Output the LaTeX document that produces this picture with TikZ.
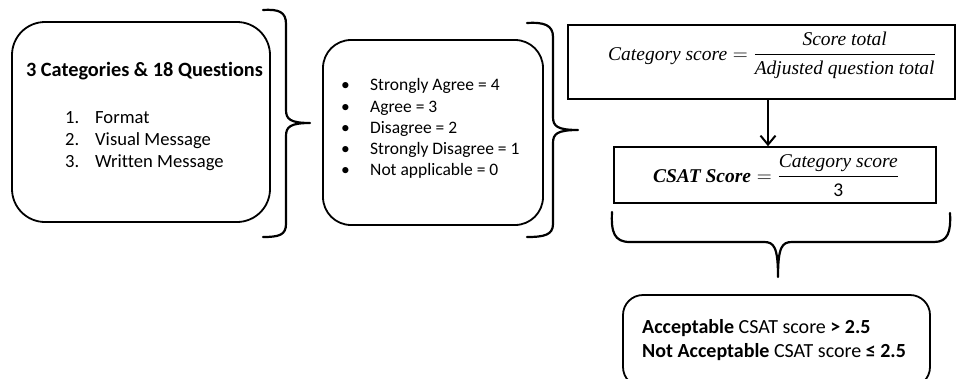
\documentclass[tikz,border=0pt]{standalone}
\usepackage{amsmath}
\usepackage{fontspec}
\setmainfont{Carlito}[Ligatures=NoCommon]
\newfontfamily\serifit{Liberation Serif}[ItalicFont=* Italic,BoldItalicFont=* Bold Italic]
\usetikzlibrary{arrows.meta}
\newcommand{\mi}[1]{\text{\serifit\itshape #1}}
\newcommand{\mbi}[1]{\text{\serifit\bfseries\itshape #1}}
\begin{document}
\begin{tikzpicture}[x=1pt,y=-1pt,
  rbox/.style={draw, line width=1.8pt, rounded corners=#1, inner sep=0pt},
  sbox/.style={draw, line width=1.6pt, inner sep=0pt},
  brace/.style={draw, line width=2.2pt, line cap=round, line join=round},
  txt/.style={anchor=base west, inner sep=0pt, font=\fontsize{17.5}{21}\selectfont},
  txtb/.style={anchor=base west, inner sep=0pt, font=\fontsize{18.6}{22}\selectfont},
  txtc/.style={anchor=base west, inner sep=0pt, font=\fontsize{20}{24}\selectfont},
  mth/.style={anchor=base, inner sep=0pt, font=\fontsize{19.5}{23}\selectfont}]
\useasboundingbox (0,0) rectangle (961,378);
\clip (0,0) rectangle (961,378);

% Box 1
\node[rbox=33pt, minimum width=258pt, minimum height=200pt] (b1) at (141,122) {};
\node[anchor=base, inner sep=0pt, font=\fontsize{20.3}{24}\selectfont\bfseries] (t1) at (144.5,76) {3 Categories \& 18 Questions};
\node[txtb] (n1) at (65,123) {1.};
\node[txtb] (l1) at (95,123) {Format};
\node[txtb] (n2) at (65,145) {2.};
\node[txtb] (l2) at (95,145) {Visual Message};
\node[txtb] (n3) at (65,167.5) {3.};
\node[txtb] (l3) at (95,167.5) {Written Message};

% Brace 1
\draw[brace] (263,10) .. controls (279,9) and (286,12) .. (286,24) -- (286,110)
  .. controls (286,119) and (290,123) .. (310,123)
  .. controls (290,123) and (286,127) .. (286,136) -- (286,224)
  .. controls (286,235) and (279,237) .. (263,237);

% Box 2
\node[rbox=28pt, minimum width=220pt, minimum height=185pt] (b2) at (433,132.5) {};
\foreach \i/\t in {0/Strongly Agree = 4, 1/Agree = 3, 2/Disagree = 2, 3/Strongly Disagree = 1, 4/Not applicable = 0}{
  \node[txt] (d\i) at (341,90.7+21.3*\i) {•};
  \node[txt] (s\i) at (370,90.7+21.3*\i) {\t};
}

% Brace 2
\draw[brace] (527,23) .. controls (544,22) and (553,25) .. (553,37) -- (553,117)
  .. controls (553,126) and (557,130) .. (578,130)
  .. controls (557,130) and (553,134) .. (553,143) -- (553,224)
  .. controls (553,235) and (544,237) .. (527,237);

% Box 3
\node[sbox, minimum width=387pt, minimum height=74pt] (b3) at (761.5,62) {};
\node[mth] (f1) at (772,60) {$\mi{Category score} = \dfrac{\mi{Score total}}{\mi{Adjusted question total}}$};

% Box 4
\node[sbox, minimum width=322pt, minimum height=56pt] (b4) at (775,175) {};
\node[mth] (f2) at (776,182) {$\mbi{CSAT Score} = \dfrac{\mi{Category score}}{\text{3}}$};

% Arrow
\coordinate (ax) at (768,0);
\draw[line width=2pt, -{Straight Barb[length=9pt,width=15pt,line width=2pt]}] (b3.south -| ax) -- (b4.north -| ax);

% Brace 3
\draw[brace] (612,212) .. controls (611,232) and (614,242) .. (630,242) -- (764,242)
  .. controls (774,242) and (778,247) .. (778,277)
  .. controls (778,247) and (782,242) .. (792,242) -- (934,242)
  .. controls (948,242) and (951,232) .. (950,213);

% Box 5
\node[rbox=20pt, minimum width=307pt, minimum height=92pt] (b5) at (776.5,341) {};
\node[txtc] (a1) at (642,333) {\textbf{Acceptable} CSAT score \textbf{> 2.5}};
\node[txtc] (a2) at (642,357) {\textbf{Not Acceptable} CSAT score \textbf{≤ 2.5}};
\end{tikzpicture}
\end{document}
